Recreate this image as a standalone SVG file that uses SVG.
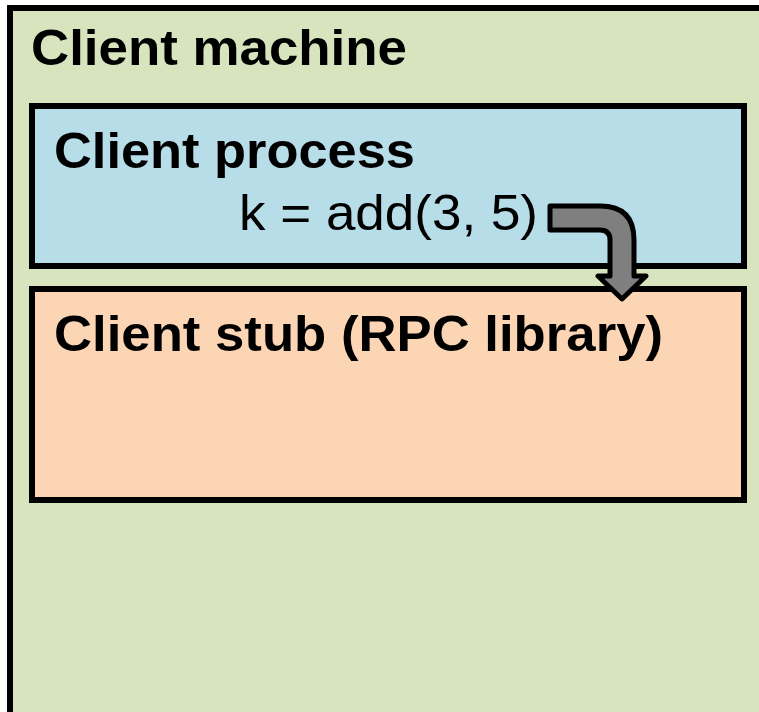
<svg xmlns="http://www.w3.org/2000/svg" width="759" height="712" viewBox="0 0 759 712">
<style>
.box{stroke:#000;stroke-width:6}
.t{font-family:"Liberation Sans",Arial,sans-serif;font-size:50px;fill:#000}
.b{font-weight:bold}
</style>
<rect width="759" height="712" fill="#ffffff"/>
<g id="client-machine">
<rect class="box" x="10" y="8" width="770" height="720" fill="#d8e4bd"/>
<text class="t b" x="31" y="65" textLength="376" lengthAdjust="spacingAndGlyphs">Client machine</text>
</g>
<g id="client-process">
<rect class="box" x="32" y="106" width="712" height="160" fill="#b7dde8"/>
<text class="t b" x="54" y="168" textLength="361" lengthAdjust="spacingAndGlyphs">Client process</text>
<text class="t" x="239" y="230" textLength="299" lengthAdjust="spacingAndGlyphs">k = add(3, 5)</text>
</g>
<g id="client-stub">
<rect class="box" x="32" y="289" width="712" height="211" fill="#fcd5b5"/>
<text class="t b" x="54" y="351" textLength="609" lengthAdjust="spacingAndGlyphs">Client stub (RPC library)</text>
</g>
<g id="connectors">
<path d="M550 206 L600 206 Q634 206 634 240 L634 276 L646 276 L622 299 L598 276 L610 276 L610 240 Q610 230 600 230 L550 230 Z" fill="#7f7f7f" stroke="#000" stroke-width="5" stroke-linejoin="round"/>
</g>
</svg>
